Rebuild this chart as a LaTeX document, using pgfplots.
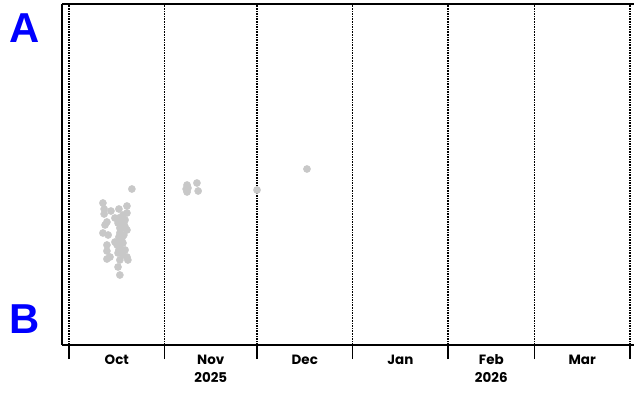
\documentclass[border=0pt]{standalone}
\usepackage{fontspec}
\setmainfont{Poppins}
\newfontfamily\arialfont{Liberation Sans}
\usepackage{pgfplots}
\pgfplotsset{compat=1.18}
\definecolor{ptgray}{RGB}{200,200,200}
\definecolor{lblue}{RGB}{0,0,255}
\begin{document}
\begin{tikzpicture}
\useasboundingbox (0,0) rectangle (634bp,393bp);
\begin{axis}[
  at={(62bp,48bp)}, anchor=south west,
  scale only axis, width=572bp, height=341bp,
  xmin=-2.27, xmax=183.3, ymin=0, ymax=341,
  axis x line*=box, axis y line*=left,
  axis line style={line width=2.6bp, black},
  ytick=\empty,
  xtick={0,31,61,92,123,151,182},
  xticklabels={},
  xtick pos=bottom,
  tick align=outside,
  major tick length=14bp,
  every tick/.style={black, line width=1.5bp},
  xmajorgrids,
  major grid style={black, line width=1.6bp, dash pattern=on 1.6bp off 1bp},
  extra x ticks={15.5,46,76.5,107.5,137,166.5},
  extra x tick labels={Oct, Nov\\2025, Dec, Jan, Feb\\2026, Mar},
  extra x tick style={xmajorgrids=false, major tick length=0pt},
  xticklabel style={align=center, font=\fontsize{13.5}{18}\selectfont\bfseries, yshift=-6.5bp},
  clip=false,
]
\addplot[only marks, mark=*, mark size=3.6bp, ptgray, mark options={draw=ptgray, fill=ptgray}] coordinates {
(20.4,156) (11.0,142) (11.4,136) (11.4,131) (13.6,134) (16.2,136) (18.8,139)
(18.8,132) (17.5,130) (12.3,123) (11.7,120) (14.9,127) (15.9,122) (18.2,118)
(18.8,115) (11.0,112) (12.7,110) (16.5,112) (17.2,107) (14.9,103) (17.5,102)
(12.3,100) (16.5,98) (18.2,95) (12.3,94) (15.9,92) (18.8,88) (12.3,86)
(13.3,88) (16.5,85) (19.1,85) (15.9,78) (16.5,70) (17.2,117)
(16.9,123) (17.8,121) (16.5,117) (16.2,108) (17.8,110) (16.9,104) (16.2,95)
(17.5,90) (15.6,100) (18.2,125) (16.2,127)
(38.3,160) (38.3,153) (38.6,157) (41.5,162) (41.9,154) (38.0,156)
(61.0,155) (77.2,176)
};
\end{axis}
\node[font=\arialfont\fontsize{42}{42}\selectfont\bfseries, text=lblue] at (25bp,365bp) {A};
\node[font=\arialfont\fontsize{42}{42}\selectfont\bfseries, text=lblue] at (25bp,74bp) {B};
\end{tikzpicture}
\end{document}
